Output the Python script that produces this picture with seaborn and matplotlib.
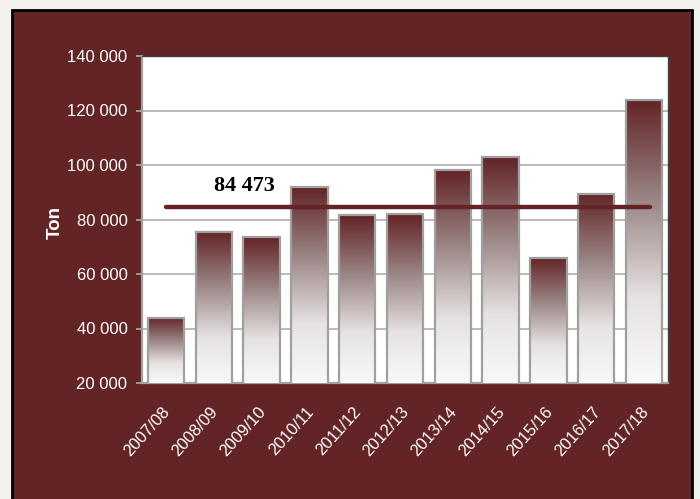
import matplotlib
matplotlib.use("Agg")
import matplotlib.pyplot as plt
import matplotlib.transforms as mtransforms
import seaborn as sns
import numpy as np
import pandas as pd
from matplotlib.colors import LinearSegmentedColormap
from matplotlib.patches import Rectangle

seasons = ["2007/08", "2008/09", "2009/10", "2010/11", "2011/12", "2012/13",
           "2013/14", "2014/15", "2015/16", "2016/17", "2017/18"]
tons = [44000, 75500, 73500, 92000, 81500, 82000, 98000, 102800, 66000, 89500, 124000]
average = 84473
average_label = "84 473"
y_ticks = [20000, 40000, 60000, 80000, 100000, 120000, 140000]
y_tick_labels = ["20 000", "40 000", "60 000", "80 000", "100 000", "120 000", "140 000"]

MAROON = "#632426"

sns.set_theme(style="white")
plt.rcParams['font.family'] = ['Liberation Sans', 'DejaVu Sans']

fig = plt.figure(figsize=(7.0, 4.99), dpi=100)
fig.patch.set_facecolor("#f3f1f0")
# maroon frame
frame = Rectangle((12 / 700, -0.01), (692 - 12) / 700, (499 - 10) / 499 + 0.01,
                  transform=fig.transFigure, facecolor=MAROON,
                  edgecolor="black", linewidth=2, zorder=-10)
fig.patches.append(frame)

ax = fig.add_axes([142 / 700, (499 - 383) / 499, (668 - 142) / 700, (383 - 56) / 499])
ax.set_zorder(1)
ax.set_facecolor("white")

df = pd.DataFrame({"season": seasons, "tons": tons})
sns.barplot(data=df, x="season", y="tons", ax=ax, width=0.76,
            color="white", edgecolor="#a0a0a0", linewidth=1.6, zorder=3)

cmap = LinearSegmentedColormap.from_list(
    "grad", [(0.0, "#f9f9f9"), (0.3, "#e6e2e2"), (0.65, "#9a8484"), (1.0, MAROON)])
grad = np.linspace(0, 1, 256).reshape(-1, 1)
for p in ax.patches:
    x0, y0 = p.get_x(), p.get_y()
    w, h = p.get_width(), p.get_height()
    im = ax.imshow(grad, cmap=cmap, origin="lower", aspect="auto",
                   extent=[x0, x0 + w, 20000, y0 + h], zorder=3.5,
                   interpolation="bicubic")
    im.set_clip_path(p)
    p.set_facecolor("none")
    p.set_zorder(4)
ax.set_xlim(-0.5, len(seasons) - 0.5)
ax.set_ylim(20000, 140000)

# average line
ax.plot([0, 10.12], [average, average], color=MAROON, linewidth=3.2,
        solid_capstyle="round", zorder=5)
ax.text(1.65, average + 4300, average_label, family=["Liberation Serif", "DejaVu Serif"],
        fontweight="bold", fontsize=16, color="black", ha="center", va="bottom", zorder=6)

ax.set_yticks(y_ticks)
ax.set_yticklabels(y_tick_labels, fontsize=12)
ax.yaxis.grid(True, color="#b4b4b4", linewidth=1.3, zorder=0)
ax.set_axisbelow(True)
ax.tick_params(axis="y", labelcolor="white", color="#a0a0a0",
               length=4, width=1.3, direction="out", left=True, pad=6.5)
ax.tick_params(axis="x", labelcolor="white", length=0, pad=15)
ax.set_xticks(range(len(seasons)))
ax.set_xticklabels(seasons, fontsize=12, rotation=48,
                   ha="right", rotation_mode="anchor")
shift = mtransforms.ScaledTranslation(-4 / 100, 0, fig.dpi_scale_trans)
for lab in ax.get_xticklabels():
    lab.set_transform(lab.get_transform() + shift)
ax.set_xlabel("")
ax.set_ylabel("Ton", color="white", fontweight="bold", fontsize=13.5)
ax.yaxis.set_label_coords(-0.148, 0.492)

for s in ["left", "bottom"]:
    ax.spines[s].set_color("#a0a0a0")
    ax.spines[s].set_linewidth(1.6)
for s in ["top", "right"]:
    ax.spines[s].set_color("#404040")
    ax.spines[s].set_linewidth(1.0)

fig.savefig("out.png", dpi=100, facecolor=fig.get_facecolor())
